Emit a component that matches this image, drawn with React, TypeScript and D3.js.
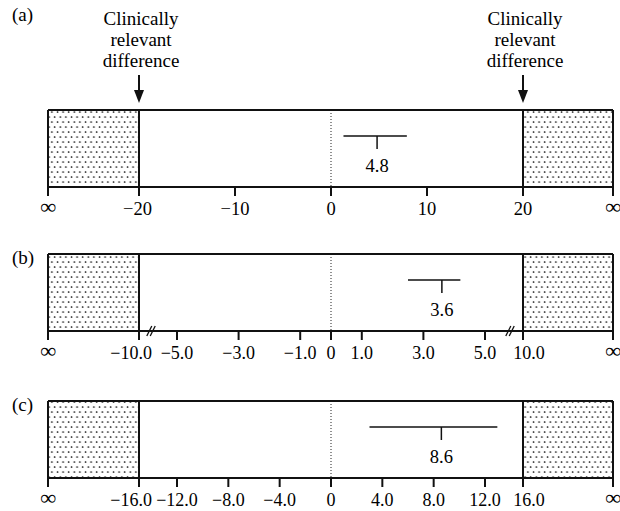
import { useRef, useEffect } from "react";
import * as d3 from "d3";

// panel data
const panelNames = ["(a)", "(b)", "(c)"];
const relevantDiffs = [20, 10, 16];
const innerLimits = [20, 5, 12];
const tickValues = [
  [-20, -10, 0, 10, 20],
  [-10, -5, -3, -1, 0, 1, 3, 5, 10],
  [-16, -12, -8, -4, 0, 4, 8, 12, 16],
];
const tickDecimals = [0, 1, 1];
const estimates = [4.8, 3.6, 8.6];
const lowerLimits = [1.3, 2.5, 3.0];
const upperLimits = [7.9, 4.2, 13.3];
const hasBreaks = [false, true, false];
const annotationLines = ["Clinically", "relevant", "difference"];

const FONT = "'Liberation Serif', 'Times New Roman', serif";

function App() {
  const svgRef = useRef<SVGSVGElement>(null);

  useEffect(() => {
    const w = 620;
    const h = 511;
    const svg = d3.select(svgRef.current).attr("width", w).attr("height", h);
    svg.selectAll("*").remove();

    const left = 48;
    const right = 613;
    const innerLeft = 139;
    const innerRight = 523;
    const tops = [110, 254, 401];
    const boxH = 77;

    // stipple pattern
    const pat = svg
      .append("defs")
      .append("pattern")
      .attr("id", "stipple")
      .attr("patternUnits", "userSpaceOnUse")
      .attr("width", 5.6)
      .attr("height", 10);
    pat.append("circle").attr("cx", 1.5).attr("cy", 2).attr("r", 0.85).attr("fill", "#000");
    pat.append("circle").attr("cx", 4.3).attr("cy", 7).attr("r", 0.85).attr("fill", "#000");

    panelNames.forEach((name, i) => {
      const top = tops[i];
      const bottom = top + boxH;
      const m = relevantDiffs[i];
      const inner = innerLimits[i];

      const x =
        inner === m
          ? d3.scaleLinear().domain([-m, m]).range([innerLeft, innerRight])
          : d3
              .scaleLinear()
              .domain([-m, -inner, inner, m])
              .range([innerLeft, 177, 485, innerRight]);

      const g = svg.append("g");

      // shaded regions
      g.append("rect")
        .attr("x", left)
        .attr("y", top)
        .attr("width", x(-m) - left)
        .attr("height", boxH)
        .attr("fill", "url(#stipple)");
      g.append("rect")
        .attr("x", x(m))
        .attr("y", top)
        .attr("width", right - x(m))
        .attr("height", boxH)
        .attr("fill", "url(#stipple)");

      // zero line
      g.append("line")
        .attr("x1", x(0))
        .attr("x2", x(0))
        .attr("y1", top)
        .attr("y2", bottom)
        .attr("stroke", "#222")
        .attr("stroke-width", 1)
        .attr("stroke-dasharray", "1,2");

      // box
      g.append("line")
        .attr("x1", left)
        .attr("x2", right)
        .attr("y1", top)
        .attr("y2", top)
        .attr("stroke", "#111")
        .attr("stroke-width", 2);
      g.append("line")
        .attr("x1", left)
        .attr("x2", right)
        .attr("y1", bottom)
        .attr("y2", bottom)
        .attr("stroke", "#111")
        .attr("stroke-width", 2);
      [left, right, x(-m), x(m)].forEach((xx) => {
        g.append("line")
          .attr("x1", xx)
          .attr("x2", xx)
          .attr("y1", top)
          .attr("y2", bottom + 9)
          .attr("stroke", "#111")
          .attr("stroke-width", 2);
      });

      // ticks
      const fmt = d3.format(`.${tickDecimals[i]}f`);
      const ticks = g.selectAll(".tick").data(tickValues[i]).enter().append("g");
      ticks
        .append("line")
        .attr("x1", (d) => x(d))
        .attr("x2", (d) => x(d))
        .attr("y1", bottom)
        .attr("y2", bottom + 9)
        .attr("stroke", "#111")
        .attr("stroke-width", 2);
      ticks
        .append("text")
        .attr("x", (d) => {
          if (d === -m) return x(d) + 13;
          if (d === m && tickDecimals[i] > 0) return x(d) + 6;
          return x(d);
        })
        .attr("y", bottom + 28)
        .attr("text-anchor", (d) => (d === -m ? "end" : "middle"))
        .style("font-family", FONT)
        .style("font-size", tickDecimals[i] > 0 ? "18px" : "18.5px")
        .text((d) => (d === 0 ? "0" : fmt(d)));

      // infinity labels
      [left, right].forEach((xx) => {
        g.append("text")
          .attr("x", xx)
          .attr("y", bottom + 27)
          .attr("text-anchor", "middle")
          .style("font-family", FONT)
          .style("font-size", "22px")
          .style("font-weight", "bold")
          .text("∞");
      });

      // axis breaks
      if (hasBreaks[i]) {
        [x(-m) + 12, x(m) - 13].forEach((bx) => {
          [-1.7, 1.7].forEach((off) => {
            g.append("line")
              .attr("x1", bx + off - 2.5)
              .attr("x2", bx + off + 2.5)
              .attr("y1", bottom + 5)
              .attr("y2", bottom - 5)
              .attr("stroke", "#111")
              .attr("stroke-width", 1.3);
          });
        });
      }

      // confidence interval
      const ciY = top + 26;
      g.append("line")
        .attr("x1", x(lowerLimits[i]))
        .attr("x2", x(upperLimits[i]))
        .attr("y1", ciY)
        .attr("y2", ciY)
        .attr("stroke", "#111")
        .attr("stroke-width", 1.5);
      g.append("line")
        .attr("x1", x(estimates[i]))
        .attr("x2", x(estimates[i]))
        .attr("y1", ciY)
        .attr("y2", ciY + 13)
        .attr("stroke", "#111")
        .attr("stroke-width", 1.5);
      g.append("text")
        .attr("x", x(estimates[i]))
        .attr("y", top + 62)
        .attr("text-anchor", "middle")
        .style("font-family", FONT)
        .style("font-size", "18.5px")
        .text(estimates[i].toFixed(1));

      // panel label
      g.append("text")
        .attr("x", 12)
        .attr("y", i === 0 ? 21 : top + 10)
        .style("font-family", FONT)
        .style("font-size", "19px")
        .text(name);

      // clinically relevant difference annotations (panel a)
      if (i === 0) {
        [x(-m), x(m)].forEach((ax) => {
          annotationLines.forEach((line, j) => {
            g.append("text")
              .attr("x", ax + 2)
              .attr("y", 25 + j * 21)
              .attr("text-anchor", "middle")
              .style("font-family", FONT)
              .style("font-size", "19px")
              .text(line);
          });
          g.append("line")
            .attr("x1", ax)
            .attr("x2", ax)
            .attr("y1", 75)
            .attr("y2", 92)
            .attr("stroke", "#111")
            .attr("stroke-width", 2);
          g.append("path")
            .attr("d", `M${ax - 5},90 L${ax + 5},90 L${ax},103 Z`)
            .attr("fill", "#111");
        });
      }
    });
  }, []);

  return (
    <svg
      ref={svgRef}
      style={{ position: "absolute", left: 0, top: 0, background: "#fff" }}
    ></svg>
  );
}

export default App;
